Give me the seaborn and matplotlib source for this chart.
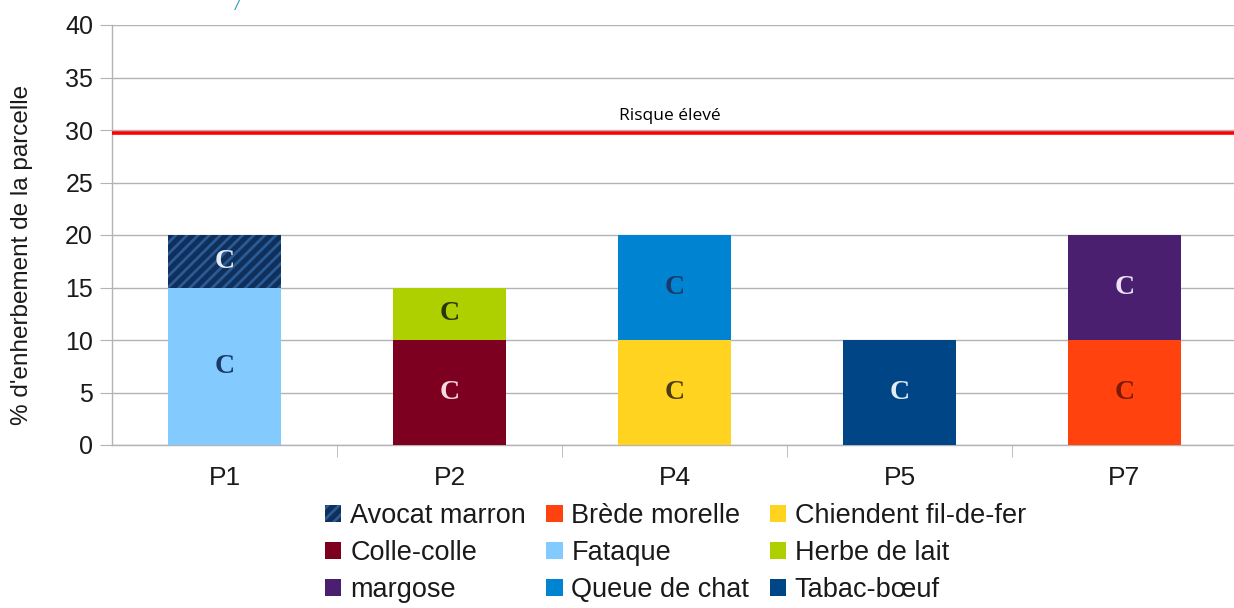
import matplotlib
matplotlib.use("Agg")
import matplotlib.pyplot as plt
import matplotlib.patches as mpatches
import seaborn as sns
import pandas as pd

# données
parcelles = ["P1", "P2", "P4", "P5", "P7"]
espece_bas = ["Fataque", "Colle-colle", "Chiendent fil-de-fer", "Tabac-bœuf", "Brède morelle"]
valeur_bas = [15, 10, 10, 10, 10]
espece_haut = ["Avocat marron", "Herbe de lait", "Queue de chat", None, "margose"]
valeur_haut = [5, 5, 10, 0, 10]
risque = 29.7

couleurs = {
    "Avocat marron": "#0f2f5c",
    "Brède morelle": "#ff420e",
    "Chiendent fil-de-fer": "#ffd320",
    "Colle-colle": "#7e0021",
    "Fataque": "#83caff",
    "Herbe de lait": "#aecf00",
    "margose": "#4b1f6f",
    "Queue de chat": "#0084d1",
    "Tabac-bœuf": "#004586",
}
couleur_c = {
    "Avocat marron": "#e4ecf4",
    "Brède morelle": "#7a1a05",
    "Chiendent fil-de-fer": "#4a3c10",
    "Colle-colle": "#f4dce2",
    "Fataque": "#1a3a6a",
    "Herbe de lait": "#2a3510",
    "margose": "#ece4f4",
    "Queue de chat": "#1a3a6a",
    "Tabac-bœuf": "#e4ecf4",
}
legende = ["Avocat marron", "Brède morelle", "Chiendent fil-de-fer",
           "Colle-colle", "Fataque", "Herbe de lait",
           "margose", "Queue de chat", "Tabac-bœuf"]

df = pd.DataFrame({
    "parcelle": parcelles,
    "bas": valeur_bas,
    "haut": valeur_haut,
    "esp_bas": espece_bas,
    "esp_haut": espece_haut,
})
df["total"] = df["bas"] + df["haut"]

sns.set_style("white")
plt.rcParams["font.family"] = ["Liberation Sans", "DejaVu Sans"]
plt.rcParams["hatch.linewidth"] = 2.0

fig = plt.figure(figsize=(12.34, 6.08), dpi=100)
ax = fig.add_axes([112 / 1234, (608 - 445) / 608, 1125 / 1234, 420 / 608])

# couche haute (totaux) puis couche basse par-dessus
pal_haut = [couleurs[e] if e else couleurs[b] for e, b in zip(espece_haut, espece_bas)]
sns.barplot(data=df, x="parcelle", y="total", hue="parcelle", palette=pal_haut,
            legend=False, width=0.5, linewidth=0, saturation=1, ax=ax, zorder=3)
pal_bas = [couleurs[e] for e in espece_bas]
sns.barplot(data=df, x="parcelle", y="bas", hue="parcelle", palette=pal_bas,
            legend=False, width=0.5, linewidth=0, saturation=1, ax=ax, zorder=3)

for i, esp in enumerate(espece_haut):
    if esp == "Avocat marron":
        p = ax.patches[i]
        p.set_hatch("///")
        p.set_edgecolor("#2b5b94")
        p.set_linewidth(0)

# étiquettes "C"
for i, row in df.iterrows():
    ax.text(i, row["bas"] / 2, "C", ha="center", va="center", fontsize=20,
            fontweight="bold", family="Liberation Serif",
            color=couleur_c[row["esp_bas"]], zorder=5)
    if row["esp_haut"]:
        ax.text(i, row["bas"] + row["haut"] / 2, "C", ha="center", va="center",
                fontsize=20, fontweight="bold", family="Liberation Serif",
                color=couleur_c[row["esp_haut"]], zorder=5)

ax.axhline(risque, color="#ff0000", lw=2.6, zorder=4)
ax.text(1.98, risque + 1.25, "Risque élevé", ha="center", va="baseline",
        fontsize=12.5, family="Open Sans", color="black")

ax.set_ylim(0, 40)
ax.set_xlim(-0.5, 4.5)
ax.set_yticks(range(0, 41, 5))
ax.yaxis.grid(True, color="#b3b3b3", lw=1, zorder=0)
ax.set_axisbelow(True)
ax.tick_params(axis="y", labelsize=18, length=8.6, color="#b3b3b3", left=True,
               labelcolor="#1a1a1a", pad=5)
ax.set_xticks([0.5, 1.5, 2.5, 3.5], minor=True)
ax.tick_params(axis="x", which="major", length=0, labelsize=19, pad=15,
               labelcolor="#1a1a1a")
ax.tick_params(axis="x", which="minor", length=8.6, color="#b3b3b3", bottom=True)
ax.set_xlabel("")
ax.set_ylabel("% d'enherbement de la parcelle", fontsize=17.5, color="#1a1a1a")
ax.yaxis.set_label_coords((33 - 112) / 1125, (445 - 255) / 420)
for s in ["top", "right"]:
    ax.spines[s].set_visible(False)
for s in ["left", "bottom"]:
    ax.spines[s].set_color("#b3b3b3")
    ax.spines[s].set_linewidth(1)

# légende (ordre par colonnes)
ordre = [legende[i] for i in [0, 3, 6, 1, 4, 7, 2, 5, 8]]
poignees = []
for nom in ordre:
    if nom == "Avocat marron":
        h = mpatches.Patch(facecolor=couleurs[nom], edgecolor="#2b5b94",
                           hatch="///", linewidth=0, label=nom)
    else:
        h = mpatches.Patch(facecolor=couleurs[nom], linewidth=0, label=nom)
    poignees.append(h)
leg = fig.legend(handles=poignees, loc="upper left", ncol=3,
                 bbox_to_anchor=(325 / 1234, 1 - 503 / 608), frameon=False,
                 fontsize=19.5, handlelength=0.6, handleheight=0.6,
                 handletextpad=0.33, columnspacing=0.75, labelspacing=0.4,
                 borderpad=0, borderaxespad=0)
for t in leg.get_texts():
    t.set_color("#1a1a1a")

fig.text(237 / 1234, 1 - 6 / 608, "/", color="#1f9bb0", fontsize=11,
         style="italic", ha="center", va="center")

fig.savefig("out.png", dpi=100)
